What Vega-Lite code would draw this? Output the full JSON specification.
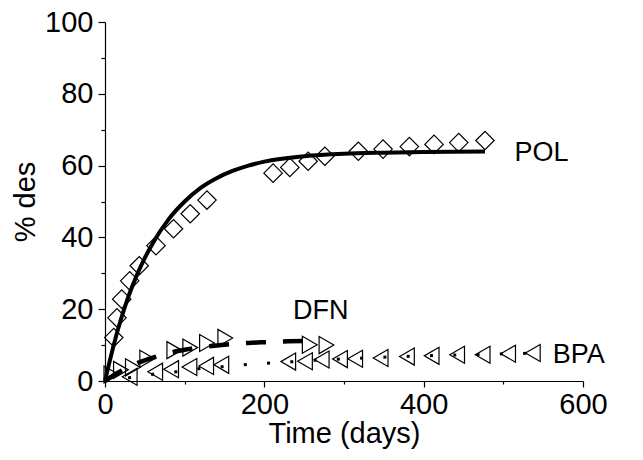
{
  "$schema": "https://vega.github.io/schema/vega-lite/v6.json",
  "width": 478,
  "height": 359,
  "autosize": {"type": "none"},
  "padding": {"left": 105, "top": 22, "right": 60, "bottom": 79},
  "background": "white",
  "config": {
    "view": {"stroke": null},
    "font": "Liberation Sans",
    "axis": {
      "grid": false,
      "domainColor": "black",
      "domainWidth": 1.2,
      "tickColor": "black",
      "tickWidth": 1.2,
      "labelColor": "black",
      "labelFont": "Liberation Sans",
      "labelFontSize": 29,
      "labelFlush": false,
      "labelOverlap": false,
      "titleColor": "black",
      "titleFont": "Liberation Sans",
      "titleFontSize": 29,
      "titleFontWeight": "normal"
    }
  },
  "datasets": {
    "points": [
      {"s": "POL", "t": 11, "y": 12.1},
      {"s": "POL", "t": 15, "y": 17.6},
      {"s": "POL", "t": 21, "y": 22.8},
      {"s": "POL", "t": 31, "y": 27.9},
      {"s": "POL", "t": 43, "y": 32.1},
      {"s": "POL", "t": 64, "y": 37.7},
      {"s": "POL", "t": 86, "y": 42.4},
      {"s": "POL", "t": 107, "y": 46.6},
      {"s": "POL", "t": 128, "y": 50.4},
      {"s": "POL", "t": 211, "y": 57.9},
      {"s": "POL", "t": 232, "y": 59.5},
      {"s": "POL", "t": 255, "y": 61.2},
      {"s": "POL", "t": 276, "y": 62.6},
      {"s": "POL", "t": 318, "y": 64.0},
      {"s": "POL", "t": 349, "y": 64.6},
      {"s": "POL", "t": 382, "y": 65.3},
      {"s": "POL", "t": 413, "y": 65.9},
      {"s": "POL", "t": 444, "y": 66.4},
      {"s": "POL", "t": 477, "y": 67.0},
      {"s": "DFN", "t": 8, "y": 1.8},
      {"s": "DFN", "t": 20, "y": 3.1},
      {"s": "DFN", "t": 35, "y": 3.8},
      {"s": "DFN", "t": 53, "y": 6.2},
      {"s": "DFN", "t": 87, "y": 8.6},
      {"s": "DFN", "t": 107, "y": 9.3},
      {"s": "DFN", "t": 128, "y": 10.6},
      {"s": "DFN", "t": 151, "y": 12.0},
      {"s": "DFN", "t": 257, "y": 10.1},
      {"s": "DFN", "t": 278, "y": 10.0},
      {"s": "BPA", "t": 31, "y": 1.2},
      {"s": "BPA", "t": 63, "y": 2.6},
      {"s": "BPA", "t": 83, "y": 3.3},
      {"s": "BPA", "t": 106, "y": 3.9},
      {"s": "BPA", "t": 127, "y": 4.2},
      {"s": "BPA", "t": 146, "y": 4.5},
      {"s": "BPA", "t": 230, "y": 5.4},
      {"s": "BPA", "t": 251, "y": 5.5},
      {"s": "BPA", "t": 272, "y": 6.0},
      {"s": "BPA", "t": 295, "y": 6.1},
      {"s": "BPA", "t": 314, "y": 6.2},
      {"s": "BPA", "t": 346, "y": 6.4},
      {"s": "BPA", "t": 379, "y": 6.8},
      {"s": "BPA", "t": 410, "y": 7.0},
      {"s": "BPA", "t": 442, "y": 7.3},
      {"s": "BPA", "t": 474, "y": 7.3},
      {"s": "BPA", "t": 506, "y": 7.6},
      {"s": "BPA", "t": 537, "y": 7.8}
    ],
    "fits": [
      {"s": "POL", "t": 0, "y": 0},
      {"s": "POL", "t": 5, "y": 4.7},
      {"s": "POL", "t": 10, "y": 9.2},
      {"s": "POL", "t": 20, "y": 17.2},
      {"s": "POL", "t": 30, "y": 23.9},
      {"s": "POL", "t": 40, "y": 29.5},
      {"s": "POL", "t": 50, "y": 34.3},
      {"s": "POL", "t": 60, "y": 38.4},
      {"s": "POL", "t": 80, "y": 45.1},
      {"s": "POL", "t": 100, "y": 50.0},
      {"s": "POL", "t": 120, "y": 53.8},
      {"s": "POL", "t": 140, "y": 56.5},
      {"s": "POL", "t": 160, "y": 58.5},
      {"s": "POL", "t": 180, "y": 60.0},
      {"s": "POL", "t": 200, "y": 61.1},
      {"s": "POL", "t": 250, "y": 62.6},
      {"s": "POL", "t": 300, "y": 63.3},
      {"s": "POL", "t": 350, "y": 63.6},
      {"s": "POL", "t": 400, "y": 63.8},
      {"s": "POL", "t": 477, "y": 63.9},
      {"s": "DFN", "t": 0, "y": 0},
      {"s": "DFN", "t": 10, "y": 1.5},
      {"s": "DFN", "t": 20, "y": 2.8},
      {"s": "DFN", "t": 40, "y": 4.9},
      {"s": "DFN", "t": 60, "y": 6.5},
      {"s": "DFN", "t": 80, "y": 7.8},
      {"s": "DFN", "t": 100, "y": 8.7},
      {"s": "DFN", "t": 120, "y": 9.4},
      {"s": "DFN", "t": 140, "y": 9.9},
      {"s": "DFN", "t": 160, "y": 10.3},
      {"s": "DFN", "t": 180, "y": 10.6},
      {"s": "DFN", "t": 200, "y": 10.8},
      {"s": "DFN", "t": 230, "y": 11.05},
      {"s": "DFN", "t": 258, "y": 11.2},
      {"s": "BPA", "t": 0, "y": 0},
      {"s": "BPA", "t": 30, "y": 0.9},
      {"s": "BPA", "t": 60, "y": 1.9},
      {"s": "BPA", "t": 90, "y": 2.6},
      {"s": "BPA", "t": 117, "y": 3.4},
      {"s": "BPA", "t": 148, "y": 4.0},
      {"s": "BPA", "t": 178, "y": 4.6},
      {"s": "BPA", "t": 207, "y": 5.0},
      {"s": "BPA", "t": 237, "y": 5.4},
      {"s": "BPA", "t": 266, "y": 5.8},
      {"s": "BPA", "t": 295, "y": 6.1},
      {"s": "BPA", "t": 325, "y": 6.4},
      {"s": "BPA", "t": 356, "y": 6.7},
      {"s": "BPA", "t": 386, "y": 6.9},
      {"s": "BPA", "t": 416, "y": 7.1},
      {"s": "BPA", "t": 446, "y": 7.3},
      {"s": "BPA", "t": 476, "y": 7.4},
      {"s": "BPA", "t": 506, "y": 7.6},
      {"s": "BPA", "t": 530, "y": 7.7}
    ],
    "labels": [
      {"s": "POL", "t": 514, "y": 63.5},
      {"s": "DFN", "t": 236, "y": 19.4},
      {"s": "BPA", "t": 562, "y": 7.3}
    ]
  },
  "encoding": {
    "x": {
      "field": "t",
      "type": "quantitative",
      "scale": {"domain": [0, 600]},
      "axis": {
        "title": "Time (days)",
        "values": [0, 100, 200, 300, 400, 500, 600],
        "labelExpr": "datum.value % 200 === 0 ? datum.label : ''",
        "tickSize": {"condition": {"test": "datum.value % 200 === 0", "value": 6}, "value": 3},
        "labelPadding": 3,
        "titlePadding": 0
      }
    },
    "y": {
      "field": "y",
      "type": "quantitative",
      "scale": {"domain": [0, 100]},
      "axis": {
        "title": "% des",
        "values": [0, 10, 20, 30, 40, 50, 60, 70, 80, 90, 100],
        "labelExpr": "datum.value % 20 === 0 ? datum.label : ''",
        "tickSize": {"condition": {"test": "datum.value % 20 === 0", "value": 7}, "value": 4},
        "labelPadding": 5,
        "titlePadding": 4
      }
    }
  },
  "layer": [
    {
      "data": {"name": "points"},
      "transform": [{"filter": "datum.s === 'POL'"}],
      "mark": {"type": "point", "shape": "diamond", "size": 340, "stroke": "black", "strokeWidth": 1.2, "filled": false, "opacity": 1}
    },
    {
      "data": {"name": "points"},
      "transform": [{"filter": "datum.s === 'DFN'"}],
      "mark": {"type": "point", "shape": "triangle-right", "size": 290, "stroke": "black", "strokeWidth": 1.2, "filled": false, "opacity": 1}
    },
    {
      "data": {"name": "points"},
      "transform": [{"filter": "datum.s === 'BPA'"}],
      "mark": {"type": "point", "shape": "triangle-left", "size": 290, "stroke": "black", "strokeWidth": 1.2, "filled": false, "opacity": 1}
    },
    {
      "data": {"name": "fits"},
      "transform": [{"filter": "datum.s === 'POL'"}],
      "mark": {"type": "line", "color": "black", "strokeWidth": 4, "interpolate": "monotone"}
    },
    {
      "data": {"name": "fits"},
      "transform": [{"filter": "datum.s === 'DFN'"}],
      "mark": {"type": "line", "color": "black", "strokeWidth": 4.5, "strokeDash": [20, 17], "interpolate": "monotone"}
    },
    {
      "data": {"name": "fits"},
      "transform": [{"filter": "datum.s === 'BPA'"}],
      "mark": {"type": "line", "color": "black", "strokeWidth": 3, "strokeDash": [3, 20.3], "interpolate": "monotone"}
    },
    {
      "data": {"name": "labels"},
      "mark": {"type": "text", "align": "left", "baseline": "middle", "fontSize": 27, "font": "Liberation Sans", "color": "black"},
      "encoding": {"text": {"field": "s"}}
    }
  ]
}
